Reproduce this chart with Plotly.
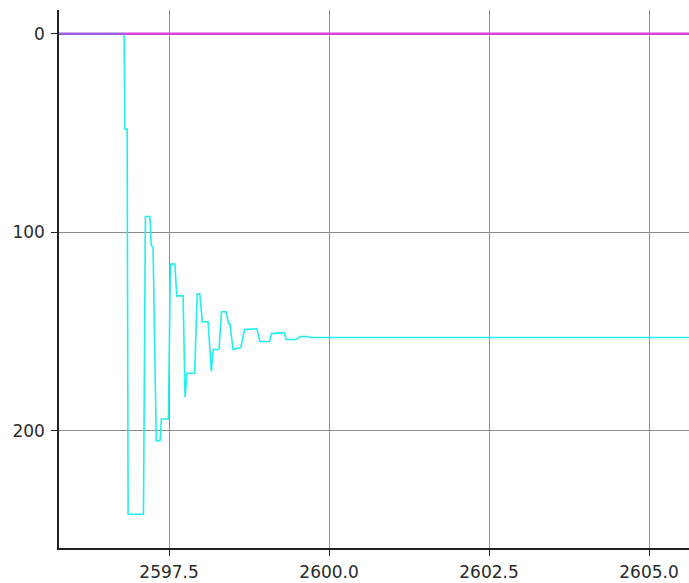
import plotly.graph_objects as go

# Response trace: time stamps and values
t_resp = [2595.78, 2596.797, 2596.81, 2596.845, 2596.86, 2597.10, 2597.13, 2597.20,
          2597.22, 2597.25, 2597.30, 2597.36, 2597.38, 2597.49, 2597.52, 2597.59,
          2597.62, 2597.72, 2597.75, 2597.78, 2597.90, 2597.94, 2597.98, 2598.02,
          2598.11, 2598.16, 2598.19, 2598.28, 2598.32, 2598.39, 2598.43, 2598.45,
          2598.50, 2598.62, 2598.68, 2598.87, 2598.92, 2599.07, 2599.10, 2599.30,
          2599.33, 2599.48, 2599.55, 2599.67, 2599.70, 2605.70]
v_resp = [0, 0, 48, 48, 242, 242, 92, 92,
          106, 108, 205, 205, 194, 194, 116, 116,
          132, 132, 183, 171, 171, 131, 131, 145,
          145, 170, 159, 159, 140, 140, 146, 146,
          159, 158, 149, 148.5, 155, 155, 151, 150.5,
          154, 154, 152.5, 152.5, 153, 153]

# Reference signals at zero
t_ref_a = [2595.70, 2596.80]
v_ref_a = [0, 0]
t_ref_b = [2596.80, 2605.70]
v_ref_b = [0, 0]

x_ticks = [2597.5, 2600.0, 2602.5, 2605.0]
y_ticks = [0, 100, 200]

fig = go.Figure()
fig.add_trace(go.Scatter(x=t_resp, y=v_resp, mode="lines",
                         line=dict(color="#22eeee", width=1.6)))
fig.add_trace(go.Scatter(x=t_ref_a, y=v_ref_a, mode="lines",
                         line=dict(color="#9a5ee0", width=2.6)))
fig.add_trace(go.Scatter(x=t_ref_b, y=v_ref_b, mode="lines",
                         line=dict(color="#dd3fdd", width=2.6)))

fig.update_layout(
    width=689, height=583,
    margin=dict(l=59, r=0, t=10, b=35),
    paper_bgcolor="white", plot_bgcolor="white",
    showlegend=False,
    font=dict(family="DejaVu Sans", size=17, color="#2a2a2a"),
)
fig.update_xaxes(
    range=[2595.78, 2605.625],
    tickvals=x_ticks, ticktext=[f"{v:.1f}" for v in x_ticks],
    showgrid=True, gridcolor="#8c8c8c", gridwidth=1,
    showline=True, linecolor="#222", linewidth=1.5,
    ticks="outside", ticklen=6, tickcolor="#222",
    ticklabelstandoff=2,
    zeroline=False,
)
fig.update_yaxes(
    range=[259, -12],
    tickvals=y_ticks,
    showgrid=True, gridcolor="#8c8c8c", gridwidth=1,
    showline=True, linecolor="#222", linewidth=1.5,
    ticks="outside", ticklen=6, tickcolor="#222",
    ticklabelstandoff=3,
    zeroline=False,
)

fig.write_html("out.html")
